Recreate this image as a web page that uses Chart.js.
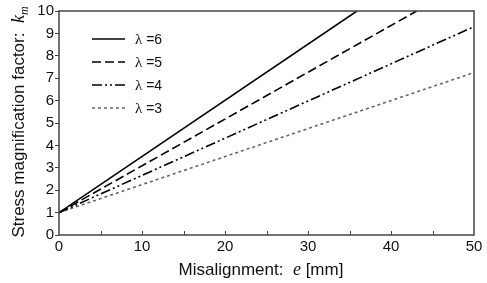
<!DOCTYPE html>
<html>
<head>
<meta charset="utf-8">
<script src="https://cdn.jsdelivr.net/npm/chart.js@4.4.0/dist/chart.umd.min.js"></script>
<style>
html,body{margin:0;padding:0;background:#fff;}
#wrap{width:487px;height:283px;position:relative;}
</style>
</head>
<body>
<div id="wrap"><canvas id="c" width="487" height="283"></canvas></div>
<script>
// Series: start and end points of each straight line
const lambdaLabels = ['6', '5', '4', '3'];
const lambda6X = [0, 35.9];
const lambda6Y = [1, 10];
const lambda5X = [0, 43.1];
const lambda5Y = [1, 10];
const lambda4X = [0, 50];
const lambda4Y = [1, 9.3];
const lambda3X = [0, 50];
const lambda3Y = [1, 7.25];
const xTicks = [0, 10, 20, 30, 40, 50];
const yTicks = [0, 1, 2, 3, 4, 5, 6, 7, 8, 9, 10];

const styles = [
  {color: '#000', dash: []},
  {color: '#000', dash: [9, 4]},
  {color: '#000', dash: [10, 3, 2, 3, 2, 3]},
  {color: '#666', dash: [3, 3]}
];
const xs = [lambda6X, lambda5X, lambda4X, lambda3X];
const ys = [lambda6Y, lambda5Y, lambda4Y, lambda3Y];

const datasets = lambdaLabels.map((l, i) => ({
  label: 'λ =' + l,
  data: xs[i].map((x, j) => ({x: x, y: ys[i][j]})),
  borderColor: styles[i].color,
  borderDash: styles[i].dash,
  borderWidth: 1.6,
  pointRadius: 0,
  fill: false,
  tension: 0
}));

const AX = '#444';

const deco = {
  id: 'deco',
  afterDraw(chart) {
    const ctx = chart.ctx;
    const a = chart.chartArea;
    const xs_ = chart.scales.x;
    ctx.save();
    // frame
    ctx.strokeStyle = AX;
    ctx.lineWidth = 1.5;
    ctx.setLineDash([]);
    ctx.strokeRect(a.left, a.top, a.right - a.left, a.bottom - a.top);
    // inward x ticks at every 5
    ctx.lineWidth = 1;
    for (let v = 5; v < 50; v += 5) {
      const px = Math.round(xs_.getPixelForValue(v)) + 0.5;
      ctx.beginPath();
      ctx.moveTo(px, a.bottom);
      ctx.lineTo(px, a.bottom - 4);
      ctx.stroke();
    }
    // legend
    const rows = [39, 62, 85, 108];
    for (let i = 0; i < 4; i++) {
      ctx.strokeStyle = styles[i].color;
      ctx.lineWidth = 1.5;
      ctx.setLineDash(styles[i].dash);
      ctx.beginPath();
      ctx.moveTo(92, rows[i]);
      ctx.lineTo(125, rows[i]);
      ctx.stroke();
      ctx.setLineDash([]);
      ctx.fillStyle = '#111';
      ctx.textBaseline = 'middle';
      ctx.textAlign = 'left';
      ctx.font = '15px "Liberation Serif", serif';
      ctx.fillText('λ', 135, rows[i] + 1);
      const w = ctx.measureText('λ').width;
      ctx.font = '14px "Liberation Sans", Arial, sans-serif';
      ctx.fillText(' =' + lambdaLabels[i], 135 + w, rows[i] + 1);
    }
    // x title
    ctx.fillStyle = '#111';
    ctx.textBaseline = 'alphabetic';
    const p1 = 'Misalignment:  ';
    const p3 = ' [mm]';
    ctx.font = '17px "Liberation Sans", Arial, sans-serif';
    const w1 = ctx.measureText(p1).width, w3 = ctx.measureText(p3).width;
    ctx.font = 'italic 18px "Liberation Serif", serif';
    const w2 = ctx.measureText('e').width;
    let x0 = 261 - (w1 + w2 + w3) / 2;
    const yb = 275;
    ctx.font = '17px "Liberation Sans", Arial, sans-serif';
    ctx.fillText(p1, x0, yb);
    ctx.font = 'italic 18px "Liberation Serif", serif';
    ctx.fillText('e', x0 + w1, yb);
    ctx.font = '17px "Liberation Sans", Arial, sans-serif';
    ctx.fillText(p3, x0 + w1 + w2, yb);
    // y title (rotated)
    ctx.save();
    ctx.translate(24, 122);
    ctx.rotate(-Math.PI / 2);
    const q1 = 'Stress magnification factor:  ';
    ctx.font = '17px "Liberation Sans", Arial, sans-serif';
    const v1 = ctx.measureText(q1).width;
    ctx.font = 'italic 18px "Liberation Serif", serif';
    const v2 = ctx.measureText('k').width;
    ctx.font = 'italic 12px "Liberation Serif", serif';
    const v3 = ctx.measureText('m').width;
    let s0 = -(v1 + v2 + v3) / 2;
    ctx.font = '17px "Liberation Sans", Arial, sans-serif';
    ctx.fillText(q1, s0, 0);
    ctx.font = 'italic 18px "Liberation Serif", serif';
    ctx.fillText('k', s0 + v1, 0);
    ctx.font = 'italic 12px "Liberation Serif", serif';
    ctx.fillText('m', s0 + v1 + v2, 4);
    ctx.restore();
    ctx.restore();
  }
};

new Chart(document.getElementById('c'), {
  type: 'line',
  data: {datasets: datasets},
  options: {
    responsive: false,
    animation: false,
    layout: {padding: {top: 11, right: 13, left: 0, bottom: 0}},
    plugins: {legend: {display: false}, tooltip: {enabled: false}},
    scales: {
      x: {
        type: 'linear', min: 0, max: 50,
        afterBuildTicks: s => { s.ticks = xTicks.map(v => ({value: v})); },
        afterFit: s => { s.height = 48; },
        grid: {display: true, drawOnChartArea: false, drawTicks: false, color: AX},
        border: {display: false},
        ticks: {color: '#111', padding: 3, maxRotation: 0, autoSkip: false,
          font: {family: '"Liberation Sans", Arial, sans-serif', size: 15}}
      },
      y: {
        type: 'linear', min: 0, max: 10,
        afterBuildTicks: s => { s.ticks = yTicks.map(v => ({value: v})); },
        afterFit: s => { s.width = 59; },
        grid: {display: true, drawOnChartArea: false, drawTicks: true, tickLength: 4, color: AX},
        border: {display: false},
        ticks: {color: '#111', padding: 1, autoSkip: false,
          font: {family: '"Liberation Sans", Arial, sans-serif', size: 15}}
      }
    }
  },
  plugins: [deco]
});
</script>
</body>
</html>
